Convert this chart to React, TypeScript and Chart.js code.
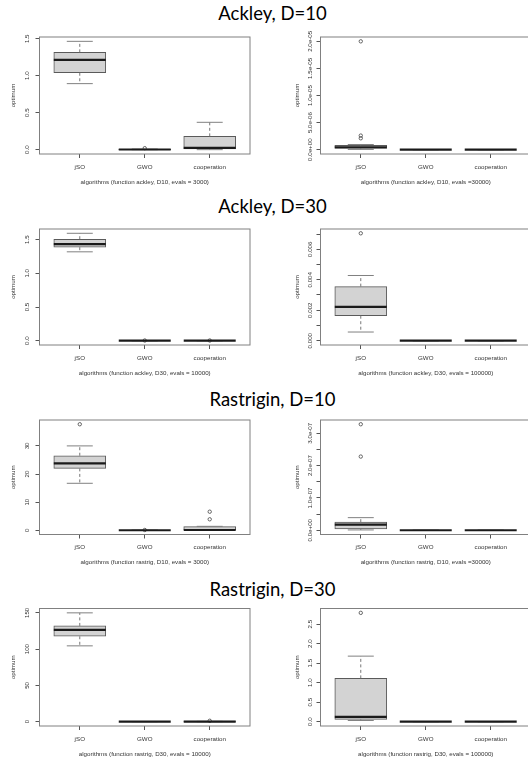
import React, { useEffect, useRef } from "react";
import { Chart, registerables } from "chart.js";

Chart.register(...registerables);

// ---------- data ----------
const algorithms = ["jSO", "GWO", "cooperation"];
const rowTitles = ["Ackley, D=10", "Ackley, D=30", "Rastrigin, D=10", "Rastrigin, D=30"];

// each entry: [lower whisker, Q1, median, Q3, upper whisker] for jSO, GWO, cooperation
const ackleyD10Evals3k = [
  [0.893, 1.04, 1.214, 1.316, 1.465],
  [0, 0.001, 0.002, 0.004, 0.008],
  [0, 0.01, 0.025, 0.18, 0.37],
];
const ackleyD10Evals3kOutliers = [[], [0.02], []];
const ackleyD10Evals3kTicks = [0, 0.5, 1, 1.5];
const ackleyD10Evals3kTickLabels = ["0.0", "0.5", "1.0", "1.5"];

const ackleyD10Evals30k = [
  [5e-8, 2.2e-7, 4.5e-7, 7.8e-7, 9.5e-7],
  [0, 0, 0, 0, 0],
  [0, 0, 0, 0, 0],
];
const ackleyD10Evals30kOutliers = [[2.0e-5, 2.6e-6, 2.1e-6], [], []];
const ackleyD10Evals30kTicks = [0, 5e-6, 1e-5, 1.5e-5, 2e-5];
const ackleyD10Evals30kTickLabels = ["0.0e+00", "5.0e-06", "1.0e-05", "1.5e-05", "2.0e-05"];

const ackleyD30Evals10k = [
  [1.319, 1.388, 1.432, 1.506, 1.594],
  [0, 0, 0, 0, 0.001],
  [0, 0, 0, 0, 0.001],
];
const ackleyD30Evals10kOutliers = [[], [0.003], [0.003]];
const ackleyD30Evals10kTicks = [0, 0.5, 1, 1.5];
const ackleyD30Evals10kTickLabels = ["0.0", "0.5", "1.0", "1.5"];

const ackleyD30Evals100k = [
  [0.00057, 0.00164, 0.00222, 0.00355, 0.00428],
  [0, 0, 0, 0, 0],
  [0, 0, 0, 0, 0],
];
const ackleyD30Evals100kOutliers = [[0.00705], [], []];
const ackleyD30Evals100kTicks = [0, 0.001, 0.002, 0.003, 0.004, 0.005, 0.006, 0.007];
const ackleyD30Evals100kTickLabels = ["0.000", "", "0.002", "", "0.004", "", "0.006", ""];

const rastrigD10Evals3k = [
  [16.7, 22.0, 23.8, 26.5, 30.0],
  [0, 0, 0, 0, 0],
  [0, 0, 0.1, 1.3, 1.4],
];
const rastrigD10Evals3kOutliers = [[37.7], [0.1], [6.6, 3.9]];
const rastrigD10Evals3kTicks = [0, 10, 20, 30];
const rastrigD10Evals3kTickLabels = ["0", "10", "20", "30"];

const rastrigD10Evals30k = [
  [1e-9, 4e-9, 1.75e-8, 2.5e-8, 3.9e-8],
  [0, 0, 0, 0, 0],
  [0, 0, 0, 0, 0],
];
const rastrigD10Evals30kOutliers = [[3.28e-7, 2.28e-7], [], []];
const rastrigD10Evals30kTicks = [0, 5e-8, 1e-7, 1.5e-7, 2e-7, 2.5e-7, 3e-7];
const rastrigD10Evals30kTickLabels = ["0.0e+00", "", "1.0e-07", "", "2.0e-07", "", "3.0e-07"];

const rastrigD30Evals10k = [
  [104.5, 117.7, 126.5, 132, 150],
  [0, 0, 0, 0, 0.2],
  [0, 0, 0, 0.2, 0.4],
];
const rastrigD30Evals10kOutliers = [[], [], [1.2]];
const rastrigD30Evals10kTicks = [0, 50, 100, 150];
const rastrigD30Evals10kTickLabels = ["0", "50", "100", "150"];

const rastrigD30Evals100k = [
  [0.03, 0.06, 0.12, 1.11, 1.68],
  [0, 0, 0, 0, 0],
  [0, 0, 0, 0, 0],
];
const rastrigD30Evals100kOutliers = [[2.79], [], []];
const rastrigD30Evals100kTicks = [0, 0.5, 1, 1.5, 2, 2.5];
const rastrigD30Evals100kTickLabels = ["0.0", "0.5", "1.0", "1.5", "2.0", "2.5"];

const xTitles = [
  "algorithms (function ackley, D10, evals = 3000)",
  "algorithms (function ackley, D10, evals =30000)",
  "algorithms (function ackley, D30, evals = 10000)",
  "algorithms (function ackley, D30, evals = 100000)",
  "algorithms (function rastrig, D10, evals = 3000)",
  "algorithms (function rastrig, D10, evals =30000)",
  "algorithms (function rastrig, D30, evals = 10000)",
  "algorithms (function rastrig, D30, evals = 100000)",
];

// ---------- layout ----------
const TICK_FONT = { family: "'Liberation Sans', Arial, sans-serif", size: 6.2 };
const INK = "#333";
const ROWS: [number, number][] = [
  [37, 154],
  [229, 345],
  [420, 534.5],
  [608.5, 726],
];
const TITLE_BASELINES = [20.7, 213.3, 406, 596];
const SIDES = [
  { canvasLeft: 0, canvasWidth: 264, plotLeft: 39.5, plotRight: 250, yTitleX: 13.5, yTickGap: 12 },
  { canvasLeft: 264, canvasWidth: 282, plotLeft: 320.5, plotRight: 531, yTitleX: 297, yTickGap: 10.5 },
];

type PanelProps = {
  stats: number[][];
  outliers: number[][];
  ticks: number[];
  tickLabels: string[];
  xTitle: string;
  side: number;
  row: number;
};

function BoxPanel({ stats, outliers, ticks, tickLabels, xTitle, side, row }: PanelProps) {
  const ref = useRef<HTMLCanvasElement>(null);
  const [plotTop, plotBottom] = ROWS[row];
  const geo = SIDES[side];
  const canvasTop = Math.floor(plotTop) - 8;
  const canvasHeight = Math.ceil(plotBottom) + 40 - canvasTop;

  useEffect(() => {
    const xAxisH = canvasHeight - (plotBottom - canvasTop);
    const plotLeftLocal = geo.plotLeft - geo.canvasLeft;
    const rightPad = geo.canvasLeft + geo.canvasWidth - geo.plotRight;
    const values = [...stats.flat(), ...outliers.flat()];
    const lo = Math.min(...values);
    const hi = Math.max(...values);
    const ext = (hi - lo) * 0.04;
    const lh = TICK_FONT.size * 1.2;

    const line = (ctx: CanvasRenderingContext2D, x1: number, y1: number, x2: number, y2: number) => {
      ctx.beginPath();
      ctx.moveTo(x1, y1);
      ctx.lineTo(x2, y2);
      ctx.stroke();
    };

    const plugin = {
      id: "rBoxplot",
      afterDatasetsDraw(chart: any) {
        const { ctx, scales } = chart;
        const x = scales.x;
        const y = scales.y;
        ctx.save();
        stats.forEach((s, i) => {
          const cx = x.getPixelForValue(i + 1);
          const half = (x.getPixelForValue(i + 1.4) - x.getPixelForValue(i + 0.6)) / 2;
          const pLow = y.getPixelForValue(s[0]);
          const pQ1 = y.getPixelForValue(s[1]);
          const pMed = y.getPixelForValue(s[2]);
          const pQ3 = y.getPixelForValue(s[3]);
          const pHigh = y.getPixelForValue(s[4]);
          ctx.strokeStyle = "#777";
          ctx.lineWidth = 1;
          ctx.setLineDash([3, 2.5]);
          line(ctx, cx, pQ3, cx, pHigh);
          line(ctx, cx, pQ1, cx, pLow);
          ctx.setLineDash([]);
          ctx.strokeStyle = "#808080";
          line(ctx, cx - half / 2, pHigh, cx + half / 2, pHigh);
          line(ctx, cx - half / 2, pLow, cx + half / 2, pLow);
          ctx.strokeStyle = "#1a1a1a";
          ctx.lineWidth = 2.2;
          line(ctx, cx - half, pMed, cx + half, pMed);
        });
        ctx.restore();
      },
      afterDraw(chart: any) {
        const { ctx, chartArea, scales } = chart;
        const y = scales.y;
        ctx.save();
        ctx.strokeStyle = "#808080";
        ctx.lineWidth = 1;
        ctx.strokeRect(chartArea.left, chartArea.top, chartArea.right - chartArea.left, chartArea.bottom - chartArea.top);
        ctx.fillStyle = INK;
        ctx.font = `${TICK_FONT.size}px ${TICK_FONT.family}`;
        ctx.textAlign = "center";
        ctx.textBaseline = "middle";
        ticks.forEach((v, i) => {
          const label = tickLabels[i];
          if (!label) return;
          const py = y.getPixelForValue(v);
          ctx.save();
          ctx.translate(chartArea.left - geo.yTickGap, py);
          ctx.rotate(-Math.PI / 2);
          ctx.fillText(label, 0, 0);
          ctx.restore();
        });
        ctx.restore();
      },
    };

    const chart = new Chart(ref.current as HTMLCanvasElement, {
      type: "bar",
      data: {
        datasets: [
          {
            type: "bar",
            data: stats.map((s, i) => ({ x: i + 1, y: [s[1], s[3]] })) as any,
            backgroundColor: "#d3d3d3",
            borderColor: "#5a5a5a",
            borderWidth: 1,
            borderSkipped: false,
            grouped: false,
            barThickness: (c: any) => {
              const xs = c.chart.scales.x;
              return xs ? Math.abs(xs.getPixelForValue(1.4) - xs.getPixelForValue(0.6)) : 52;
            },
          } as any,
          {
            type: "scatter",
            data: outliers.flatMap((arr, i) => arr.map((v) => ({ x: i + 1, y: v }))),
            pointStyle: "circle",
            pointRadius: 1.7,
            pointBorderWidth: 0.8,
            pointBorderColor: "#444",
            pointBackgroundColor: "rgba(0,0,0,0)",
          } as any,
        ],
      },
      options: {
        animation: false,
        responsive: false,
        events: [],
        layout: { padding: { left: 0, top: plotTop - canvasTop, right: rightPad, bottom: 0 } },
        plugins: { legend: { display: false }, tooltip: { enabled: false } },
        scales: {
          x: {
            type: "linear",
            min: 0.38,
            max: 3.62,
            offset: false,
            afterBuildTicks: (s: any) => {
              s.ticks = algorithms.map((_, i) => ({ value: i + 1 }));
            },
            afterFit: (s: any) => {
              s.height = xAxisH;
            },
            ticks: {
              autoSkip: false,
              maxRotation: 0,
              minRotation: 0,
              padding: 5.3,
              color: INK,
              font: TICK_FONT,
              callback: (_v: any, i: number) => algorithms[i],
            },
            grid: { drawOnChartArea: false, drawTicks: true, tickLength: 4, color: "#555", offset: false },
            border: { display: false },
            title: {
              display: true,
              text: xTitle,
              color: INK,
              font: TICK_FONT,
              padding: { top: 0, bottom: xAxisH - 28 - lh / 2 },
            },
          },
          y: {
            type: "linear",
            min: lo - ext,
            max: hi + ext,
            afterBuildTicks: (s: any) => {
              s.ticks = ticks.map((v) => ({ value: v }));
            },
            afterFit: (s: any) => {
              s.width = plotLeftLocal;
            },
            ticks: { display: false },
            grid: { drawOnChartArea: false, drawTicks: true, tickLength: 4, color: "#555" },
            border: { display: false },
            title: {
              display: true,
              text: "optimum",
              color: INK,
              font: TICK_FONT,
              padding: { top: geo.yTitleX - geo.canvasLeft - lh / 2, bottom: 0 },
            },
          },
        },
      } as any,
      plugins: [plugin],
    });
    return () => chart.destroy();
  }, []);

  return (
    <canvas
      ref={ref}
      width={geo.canvasWidth}
      height={canvasHeight}
      style={{
        position: "absolute",
        left: geo.canvasLeft,
        top: canvasTop,
        width: geo.canvasWidth,
        height: canvasHeight,
      }}
    />
  );
}

const panels = [
  { stats: ackleyD10Evals3k, outliers: ackleyD10Evals3kOutliers, ticks: ackleyD10Evals3kTicks, tickLabels: ackleyD10Evals3kTickLabels },
  { stats: ackleyD10Evals30k, outliers: ackleyD10Evals30kOutliers, ticks: ackleyD10Evals30kTicks, tickLabels: ackleyD10Evals30kTickLabels },
  { stats: ackleyD30Evals10k, outliers: ackleyD30Evals10kOutliers, ticks: ackleyD30Evals10kTicks, tickLabels: ackleyD30Evals10kTickLabels },
  { stats: ackleyD30Evals100k, outliers: ackleyD30Evals100kOutliers, ticks: ackleyD30Evals100kTicks, tickLabels: ackleyD30Evals100kTickLabels },
  { stats: rastrigD10Evals3k, outliers: rastrigD10Evals3kOutliers, ticks: rastrigD10Evals3kTicks, tickLabels: rastrigD10Evals3kTickLabels },
  { stats: rastrigD10Evals30k, outliers: rastrigD10Evals30kOutliers, ticks: rastrigD10Evals30kTicks, tickLabels: rastrigD10Evals30kTickLabels },
  { stats: rastrigD30Evals10k, outliers: rastrigD30Evals10kOutliers, ticks: rastrigD30Evals10kTicks, tickLabels: rastrigD30Evals10kTickLabels },
  { stats: rastrigD30Evals100k, outliers: rastrigD30Evals100kOutliers, ticks: rastrigD30Evals100kTicks, tickLabels: rastrigD30Evals100kTickLabels },
];

export default function App() {
  const TITLE_SIZE = 18.5;
  return (
    <div
      style={{
        position: "fixed",
        left: 0,
        top: 0,
        width: 528,
        height: 761,
        overflow: "hidden",
        background: "#fff",
      }}
    >
      {panels.map((p, i) => (
        <BoxPanel
          key={i}
          stats={p.stats}
          outliers={p.outliers}
          ticks={p.ticks}
          tickLabels={p.tickLabels}
          xTitle={xTitles[i]}
          side={i % 2}
          row={Math.floor(i / 2)}
        />
      ))}
      {rowTitles.map((t, i) => (
        <div
          key={t}
          style={{
            position: "absolute",
            left: 0,
            width: 545,
            top: TITLE_BASELINES[i] - 16.4,
            fontFamily: "Lato, 'Open Sans', sans-serif",
            fontSize: TITLE_SIZE,
            lineHeight: `${TITLE_SIZE}px`,
            textAlign: "center",
            whiteSpace: "nowrap",
            color: "#000",
          }}
        >
          {t}
        </div>
      ))}
    </div>
  );
}
